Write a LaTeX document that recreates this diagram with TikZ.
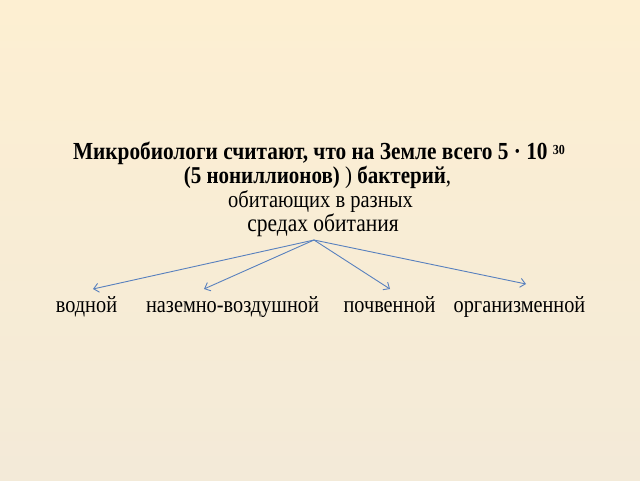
\documentclass[tikz,border=0pt]{standalone}
\usepackage{fontspec}
\usepackage{graphicx}
\setmainfont{Liberation Serif}
\usetikzlibrary{arrows.meta}
\definecolor{bgtop}{RGB}{253,239,210}
\definecolor{bgbot}{RGB}{243,234,216}
\definecolor{arrowblue}{RGB}{88,128,190}
\newcommand{\tallbox}[1]{\scalebox{1}[1.15]{#1}}
\tikzset{
  head/.style={font=\bfseries\fontsize{21.3}{21.3}\selectfont, inner sep=0pt, anchor=base},
  sub/.style={font=\fontsize{20.5}{20.5}\selectfont, inner sep=0pt, anchor=base},
  habitat/.style={font=\fontsize{20.3}{20.3}\selectfont, inner sep=0pt, anchor=base},
  link/.style={draw=arrowblue, line width=0.9pt, -{Straight Barb[length=5pt,width=9pt]}}
}
\begin{document}
\begin{tikzpicture}[x=1pt,y=-1pt]
\shade[top color=bgtop, bottom color=bgbot] (0,0) rectangle (640,480);
\useasboundingbox (0,0) rectangle (640,480);
\node[head] (l1) at (319,159) {\tallbox{Микробиологи считают, что на Земле всего 5 · 10 \raisebox{4pt}{\fontsize{12}{12}\selectfont 30}}};
\node[head, font=\bfseries\fontsize{21}{21}\selectfont] (l2) at (317.5,183) {\tallbox{(5 нониллионов) {\mdseries )} бактерий{\mdseries ,}}};
\node[sub] (l3) at (320.5,207) {\tallbox{обитающих в разных}};
\node[sub, font=\fontsize{21.5}{21.5}\selectfont] (l4) at (323,231) {\tallbox{средах обитания}};
\coordinate (src) at (314,240);
\coordinate (t1) at (93,289);
\coordinate (t2) at (204,289);
\coordinate (t3) at (390,289);
\coordinate (t4) at (526,284);
\node[habitat] (h1) at (86.5,312) {\tallbox{водной}};
\node[habitat] (h2) at (232.5,312) {\tallbox{наземно-воздушной}};
\node[habitat] (h3) at (389.5,312) {\tallbox{почвенной}};
\node[habitat] (h4) at (519.5,312) {\tallbox{организменной}};
\draw[link] (src) -- (t1);
\draw[link] (src) -- (t2);
\draw[link] (src) -- (t3);
\draw[link] (src) -- (t4);
\end{tikzpicture}
\end{document}
